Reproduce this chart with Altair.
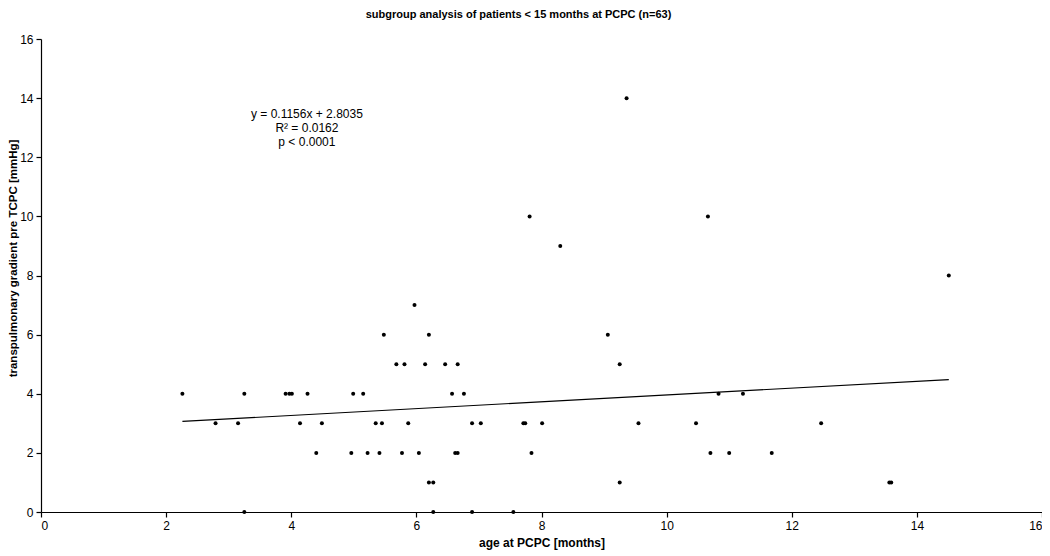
import altair as alt
import pandas as pd

age_months = [2.26, 2.79, 3.15, 3.25, 3.25, 3.91, 3.97, 4.01, 4.26, 4.14,
              4.40, 4.49, 4.96, 4.99, 5.97, 5.48, 6.20, 9.06, 5.68, 5.81,
              6.14, 6.46, 6.66, 9.25, 5.15, 6.57, 6.76, 10.47, 5.35, 5.45,
              5.87, 6.89, 7.03, 7.71, 7.74, 8.01, 9.55, 5.22, 5.41, 5.77,
              6.04, 6.62, 6.66, 7.84, 6.20, 6.27, 9.25, 6.27, 6.89, 7.55,
              10.83, 11.22, 12.47, 10.70, 11.00, 11.68, 13.56, 13.59, 9.36, 7.81,
              10.66, 8.30, 14.51]
gradient = [4, 3, 3, 4, 0, 4, 4, 4, 4, 3,
            2, 3, 2, 4, 7, 6, 6, 6, 5, 5,
            5, 5, 5, 5, 4, 4, 4, 3, 3, 3,
            3, 3, 3, 3, 3, 3, 3, 2, 2, 2,
            2, 2, 2, 2, 1, 1, 1, 0, 0, 0,
            4, 4, 3, 2, 2, 2, 1, 1, 14, 10,
            10, 9, 8]

slope = 0.1156
intercept = 2.8035
annotation_lines = ["y = 0.1156x + 2.8035", "R\u00b2 = 0.0162", "p < 0.0001"]
annotation_x = [4.25, 4.25, 4.25]
annotation_y = [13.45, 12.98, 12.5]

pts = pd.DataFrame({"age": age_months, "tpg": gradient})
x_ends = [min(age_months), max(age_months)]
fit = pd.DataFrame({"age": x_ends, "tpg": [slope * v + intercept for v in x_ends]})
ann = pd.DataFrame({"age": annotation_x, "tpg": annotation_y, "label": annotation_lines})

FONT = "Liberation Sans"

x_scale = alt.Scale(domain=[0, 16], nice=False, zero=True)
y_scale = alt.Scale(domain=[0, 16], nice=False, zero=True)

x_axis = alt.Axis(title="age at PCPC [months]", values=list(range(0, 17, 2)), format="d",
                  grid=False, domainColor="black", tickColor="black", tickSize=5,
                  labelFont=FONT, labelFontSize=12, labelColor="black", labelPadding=3,
                  titleFont=FONT, titleFontSize=12, titleFontWeight="bold",
                  titleColor="black", titlePadding=6)
y_axis = alt.Axis(title="transpulmonary gradient pre TCPC [mmHg]", values=list(range(0, 17, 2)),
                  format="d",
                  grid=False, domainColor="black", tickColor="black", tickSize=5,
                  labelFont=FONT, labelFontSize=12, labelColor="black", labelPadding=3,
                  titleFont=FONT, titleFontSize=11.5, titleFontWeight="bold",
                  titleColor="black", titleX=-28, titleY=219, titleBaseline="middle",
                  titleAngle=270)

points = alt.Chart(pts).mark_circle(size=16, color="black", opacity=1).encode(
    x=alt.X("age:Q", scale=x_scale, axis=x_axis),
    y=alt.Y("tpg:Q", scale=y_scale, axis=y_axis),
)

line = alt.Chart(fit).mark_line(color="black", strokeWidth=1.2).encode(
    x="age:Q", y="tpg:Q"
)

text = alt.Chart(ann).mark_text(font=FONT, fontSize=12, color="black", align="center",
                                baseline="middle").encode(
    x="age:Q", y="tpg:Q", text="label:N"
)

chart = (line + points + text).properties(
    width=1001, height=473,
    autosize=alt.AutoSizeParams(type="none"),
    padding={"left": 33, "top": 31, "right": 0, "bottom": 44},
    title=alt.TitleParams("subgroup analysis of patients < 15 months at PCPC (n=63)",
                          font=FONT, fontSize=11, fontWeight="bold", color="black",
                          anchor="middle", dx=-23, offset=13),
).configure_view(stroke=None).configure_axis(domainWidth=1.2, tickWidth=1.2)

chart.save("out.html", embed_options={"renderer": "svg", "actions": False})
